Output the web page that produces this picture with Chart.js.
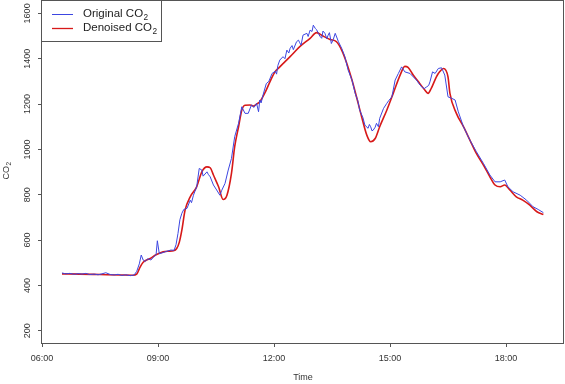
<!DOCTYPE html>
<html>
<head>
<meta charset="utf-8">
<script src="https://cdn.jsdelivr.net/npm/chart.js@4/dist/chart.umd.min.js"></script>
<style>
  html, body { margin: 0; padding: 0; background: #fff; }
  canvas { display: block; }
</style>
</head>
<body>
<canvas id="co2Chart" width="565" height="384"></canvas>
<script>
// time axis is minutes since midnight
const xTickLabels = ['06:00', '09:00', '12:00', '15:00', '18:00'];
const yTickValues = [200, 400, 600, 800, 1000, 1200, 1400, 1600];

// raw sensor readings (blue)
const origMinutes = [
	391, 397, 403, 410, 416, 422, 428, 434, 441, 447,
	453, 459, 466, 472, 478, 484, 490, 497, 503, 507,
	511, 514, 517, 520, 524, 529, 534, 537, 539, 542,
	548, 554, 560, 565, 568, 571, 574, 577, 580, 585,
	590, 592, 595, 600, 604, 608, 610, 616, 618, 621,
	626, 631, 636, 639, 644, 649, 654, 659, 665, 670,
	675, 680, 685, 689, 693, 696, 698, 700, 703, 708, 712, 717,
	722, 724, 726, 729, 734, 737, 740, 743, 745, 748, 750, 755, 758, 760, 762, 765,
	771, 773, 776, 779, 781, 784, 786, 789, 791, 794, 796, 799, 802, 804, 806, 809, 812, 815,
	820, 825, 830, 835, 841, 846, 850, 853, 858, 861,
	866, 868, 870, 872, 874, 877, 879, 882, 884, 890, 895, 898, 903,
	908, 913, 918, 923, 931, 941, 945, 949, 953, 957, 960, 962, 966,
	970, 975, 980, 985, 990, 996, 1001, 1006, 1014, 1024,
	1034, 1045, 1055, 1063, 1071, 1078, 1083, 1091, 1102, 1112,
	1122, 1130, 1138
];
const origCO2 = [
	455, 451, 453, 449, 452, 450, 453, 448, 450, 447,
	451, 456, 448, 446, 449, 444, 447, 443, 446, 462,
	495, 534, 512, 505, 518, 512, 528, 535, 597, 540,
	545, 551, 556, 555, 580, 629, 690, 718, 735, 740,
	776, 765, 798, 835, 916, 909, 882, 901, 890, 879,
	843, 821, 798, 820, 850, 909, 960, 1056, 1115, 1188,
	1159, 1159, 1196, 1185, 1203, 1166, 1218, 1205, 1240, 1290, 1300, 1335,
	1345, 1332, 1370, 1394, 1409, 1400, 1438, 1425, 1446, 1458, 1440, 1475, 1482, 1470, 1460, 1504,
	1512, 1498, 1526, 1520, 1548, 1534, 1528, 1512, 1500, 1490, 1522, 1512, 1488, 1504, 1515, 1467, 1485, 1512,
	1475, 1446, 1409, 1350, 1306, 1247, 1215, 1173, 1140, 1107,
	1093, 1110, 1100, 1082, 1085, 1098, 1115, 1100, 1137, 1181, 1203, 1215, 1232,
	1306, 1335, 1364, 1342, 1335, 1306, 1290, 1276, 1268, 1276, 1282, 1298, 1342,
	1335, 1357, 1360, 1328, 1232, 1225, 1218, 1166, 1100, 1041,
	990, 938, 887, 857, 857, 865, 835, 813, 798, 776,
	747, 735, 721
];

// smoothed signal (red)
const denoisedMinutes = [
	391, 419, 450, 481, 501, 507, 512, 517, 528, 537,
	548, 556, 564, 569, 573, 577, 582, 590, 600, 608,
	616, 621, 626, 634, 641, 647, 654, 659, 665, 670,
	675, 683, 688, 693, 698, 706, 714, 721, 729, 745,
	760, 776, 786, 796, 807, 817, 825, 833, 841, 848,
	856, 864, 870, 877, 884, 895, 905, 916, 923, 928,
	936, 946, 954, 959, 964, 972, 977, 983, 990, 993,
	1003, 1014, 1024, 1034, 1045, 1055, 1063, 1071, 1078, 1086,
	1096, 1106, 1117, 1128, 1138
];
const denoisedCO2 = [
	451, 450, 448, 446, 445, 450, 480, 502, 519, 535,
	548, 551, 553, 563, 590, 644, 732, 791, 835, 901,
	923, 919, 887, 835, 779, 798, 894, 1012, 1100, 1173,
	1195, 1196, 1191, 1200, 1210, 1250, 1300, 1340, 1364, 1409,
	1453, 1490, 1515, 1500, 1485, 1475, 1438, 1379, 1306, 1232,
	1144, 1063, 1034, 1048, 1100, 1173, 1247, 1330, 1366, 1362,
	1328, 1291, 1262, 1247, 1269, 1320, 1342, 1357, 1320, 1247,
	1159, 1100, 1041, 982, 931, 879, 843, 835, 843, 821,
	791, 776, 754, 725, 713
];

const fontFamily = '"Liberation Sans", Arial, sans-serif';
const textColor = '#333';
const frameColor = '#555';
const blueLine = 'rgb(60, 70, 225)';
const redLine = 'rgb(215, 25, 25)';

function toMinutes(hm) {
	const [h, m] = hm.split(':').map(Number);
	return h * 60 + m;
}

function toHM(mins) {
	const h = `${Math.floor(mins / 60)}`.padStart(2, '0');
	const m = `${Math.round(mins % 60)}`.padStart(2, '0');
	return `${h}:${m}`;
}

// "CO" with a lowered small 2, like R's expression(CO[2])
function drawCO2(ctx, text, x, y, size) {
	ctx.font = `${size}px ${fontFamily}`;
	ctx.fillText(text, x, y);
	const w = ctx.measureText(text).width;
	ctx.font = `${size * 0.72}px ${fontFamily}`;
	ctx.fillText('2', x + w + 0.5, y + size * 0.28);
}

const rStyle = {
	id: 'rStyle',
	afterDraw(chart) {
		const { ctx, chartArea: a, scales } = chart;
		ctx.save();

		// plot box
		ctx.strokeStyle = frameColor;
		ctx.lineWidth = 1;
		const l = Math.floor(a.left) - 0.5, r = Math.ceil(a.right) - 0.5;
		const t = Math.floor(a.top) + 0.5, b = Math.ceil(a.bottom) + 0.5;
		ctx.strokeRect(l, t, r - l, b - t);

		// y tick labels, rotated like R's default las=0
		ctx.fillStyle = textColor;
		ctx.font = `9px ${fontFamily}`;
		ctx.textAlign = 'center';
		ctx.textBaseline = 'middle';
		yTickValues.forEach(v => {
			const y = scales.y.getPixelForValue(v);
			ctx.save();
			ctx.translate(28, y);
			ctx.rotate(-Math.PI / 2);
			ctx.fillText(String(v), 0, 0);
			ctx.restore();
		});

		// y axis title
		ctx.save();
		ctx.translate(7, (a.top + a.bottom) / 2);
		ctx.rotate(-Math.PI / 2);
		ctx.textAlign = 'left';
		drawCO2(ctx, 'CO', -8, 0, 9);
		ctx.restore();

		// legend box
		ctx.fillStyle = '#fff';
		ctx.fillRect(l, t, 120, 41);
		ctx.strokeRect(l, t, 120, 41);
		const rows = [
			{ color: blueLine, width: 1, text: 'Original CO', y: 14 },
			{ color: redLine, width: 1.3, text: 'Denoised CO', y: 28 }
		];
		rows.forEach(row => {
			ctx.strokeStyle = row.color;
			ctx.lineWidth = row.width;
			ctx.beginPath();
			ctx.moveTo(52, row.y + 0.5);
			ctx.lineTo(73, row.y + 0.5);
			ctx.stroke();
			ctx.fillStyle = '#222';
			ctx.textAlign = 'left';
			ctx.textBaseline = 'middle';
			drawCO2(ctx, row.text, 83, row.y, 11.5);
		});

		ctx.restore();
	}
};

const tickFont = { family: fontFamily, size: 9 };

new Chart(document.getElementById('co2Chart'), {
	type: 'line',
	data: {
		datasets: [
			{
				label: 'Original CO2',
				data: origMinutes.map((m, i) => ({ x: m, y: origCO2[i] })),
				borderColor: blueLine,
				borderWidth: 1,
				pointRadius: 0,
				tension: 0
			},
			{
				label: 'Denoised CO2',
				data: denoisedMinutes.map((m, i) => ({ x: m, y: denoisedCO2[i] })),
				borderColor: redLine,
				borderWidth: 1.6,
				pointRadius: 0,
				cubicInterpolationMode: 'monotone'
			}
		]
	},
	options: {
		responsive: false,
		animation: false,
		devicePixelRatio: 1,
		layout: { padding: { left: 0, right: 1, top: 0, bottom: 0 } },
		plugins: {
			legend: { display: false },
			tooltip: { enabled: false }
		},
		scales: {
			x: {
				type: 'linear',
				min: 360,
				max: 1170,
				afterBuildTicks: (s) => { s.ticks = xTickLabels.map(hm => ({ value: toMinutes(hm) })); },
				afterFit: (s) => { s.height = 41; },
				border: { display: false },
				grid: { drawOnChartArea: false, tickLength: 4, color: frameColor },
				ticks: {
					font: tickFont,
					color: textColor,
					padding: 6,
					maxRotation: 0,
					autoSkip: false,
					callback: (v) => toHM(v)
				},
				title: {
					display: true,
					text: 'Time',
					font: tickFont,
					color: textColor,
					padding: { top: 0, bottom: 1 }
				}
			},
			y: {
				type: 'linear',
				min: 146,
				max: 1659,
				afterBuildTicks: (s) => { s.ticks = yTickValues.map(v => ({ value: v })); },
				afterFit: (s) => { s.width = 42; },
				border: { display: false },
				grid: { drawOnChartArea: false, tickLength: 4, color: frameColor },
				ticks: { display: false }
			}
		}
	},
	plugins: [rStyle]
});
</script>
</body>
</html>
